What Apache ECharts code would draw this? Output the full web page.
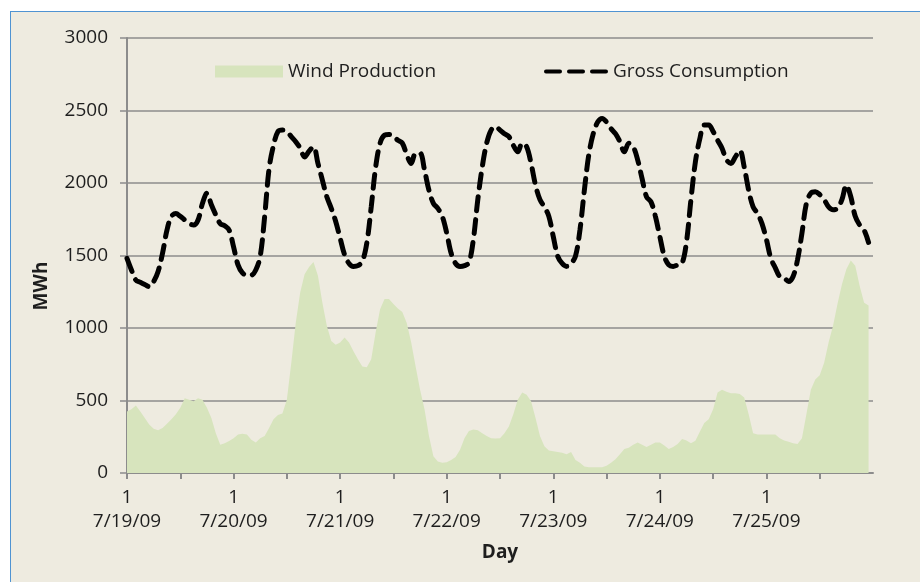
<!DOCTYPE html>
<html>
<head>
<meta charset="utf-8">
<title>Wind Production vs Gross Consumption</title>
<script src="https://cdn.jsdelivr.net/npm/echarts@6/dist/echarts.min.js"></script>
<style>
  html, body { margin: 0; padding: 0; background: #ffffff; overflow: hidden; }
  .frame {
    position: absolute; left: 10px; top: 11px; width: 940px; height: 600px;
    background: #eeebe0; border: 1px solid #4f93d2;
  }
  #chart { position: absolute; left: 0; top: 0; width: 920px; height: 582px; }
</style>
</head>
<body>
<div class="frame"></div>
<div id="chart"></div>
<script>
// hourly values, 7/19/09 00:00 .. 7/25/09 23:00 (one row per day)
const grossConsumption = [
  1480, 1400, 1330, 1315, 1300, 1285, 1320, 1390, 1515, 1675, 1770, 1790, 1770, 1745, 1720, 1710, 1745, 1860, 1930, 1850, 1780, 1720, 1705, 1675,
  1560, 1435, 1380, 1365, 1365, 1400, 1495, 1770, 2100, 2260, 2355, 2365, 2355, 2320, 2285, 2240, 2180, 2220, 2250, 2135, 2020, 1905, 1825, 1735,
  1620, 1505, 1445, 1425, 1430, 1460, 1585, 1835, 2110, 2275, 2330, 2335, 2320, 2295, 2275, 2195, 2135, 2205, 2205, 2090, 1950, 1860, 1825, 1770,
  1655, 1515, 1445, 1425, 1430, 1450, 1610, 1885, 2110, 2275, 2365, 2390, 2365, 2340, 2320, 2260, 2215, 2275, 2250, 2135, 1985, 1885, 1835, 1770,
  1630, 1495, 1445, 1425, 1445, 1495, 1675, 1950, 2195, 2340, 2420, 2445, 2420, 2375, 2340, 2285, 2215, 2275, 2250, 2160, 2030, 1905, 1870, 1770,
  1630, 1495, 1435, 1425, 1435, 1445, 1595, 1885, 2145, 2305, 2400, 2400, 2355, 2295, 2240, 2160, 2135, 2180, 2225, 2110, 1950, 1835, 1790, 1720,
  1610, 1480, 1415, 1355, 1345, 1320, 1355, 1470, 1655, 1860, 1930, 1940, 1920, 1885, 1835, 1815, 1825, 1885, 1985, 1905, 1770, 1710, 1675, 1590
]

const windProduction = [
  425, 440, 465, 425, 380, 335, 305, 295, 310, 340, 370, 405, 450, 515, 505, 495, 515, 505, 450, 380, 275, 195, 205, 220,
  240, 265, 270, 265, 230, 210, 240, 255, 310, 370, 400, 410, 505, 760, 1035, 1245, 1370, 1420, 1455, 1360, 1175, 1015, 910, 885,
  900, 935, 900, 840, 785, 735, 730, 785, 970, 1130, 1200, 1200, 1165, 1135, 1110, 1035, 900, 735, 575, 440, 255, 115, 80, 70,
  75, 90, 110, 160, 240, 290, 300, 295, 275, 255, 240, 238, 240, 275, 320, 405, 505, 555, 540, 495, 380, 255, 185, 155,
  150, 145, 140, 130, 145, 90, 70, 45, 40, 40, 40, 40, 50, 70, 95, 130, 165, 175, 195, 210, 195, 180, 195, 210,
  210, 190, 165, 180, 200, 235, 225, 205, 222, 285, 345, 370, 440, 555, 575, 560, 550, 550, 545, 520, 405, 275, 265, 265,
  265, 265, 265, 240, 225, 215, 205, 200, 240, 405, 575, 645, 675, 760, 900, 1015, 1165, 1300, 1405, 1465, 1430, 1290, 1175, 1155
]

const dayLabels = ['7/19/09', '7/20/09', '7/21/09', '7/22/09', '7/23/09', '7/24/09', '7/25/09']
const yTicks = [0, 500, 1000, 1500, 2000, 2500, 3000]

const WIND_GREEN = '#d7e4bd'
const GRID_GRAY = '#8c8c8c'
const TEXT = '#1e1e1e'
const FONT = '"Open Sans", "DejaVu Sans", sans-serif'

// three rounded dashes for the consumption legend key
const DASH_ICON = 'path://M2,0H16A2,2 0 0 1 16,4H2A2,2 0 0 1 2,0Z' +
  'M25,0H39A2,2 0 0 1 39,4H25A2,2 0 0 1 25,0Z' +
  'M48,0H62A2,2 0 0 1 62,4H48A2,2 0 0 1 48,0Z'

const chart = echarts.init(document.getElementById('chart'))

const toPairs = (arr) => arr.map((v, i) => [i, v])

const option = {
  backgroundColor: 'transparent',
  animation: false,
  textStyle: { fontFamily: FONT, color: TEXT },
  grid: { left: 127, right: 47, top: 38, bottom: 109 },
  legend: [
    {
      data: [{ name: 'Wind Production', icon: 'rect' }],
      left: 210, top: 57,
      itemWidth: 68, itemHeight: 12,
      textStyle: { fontFamily: FONT, fontSize: 19, color: TEXT },
      selectedMode: false
    },
    {
      data: [{ name: 'Gross Consumption', icon: DASH_ICON, itemStyle: { color: '#000000', borderWidth: 0 } }],
      left: 539, top: 57,
      itemWidth: 64, itemHeight: 4.5,
      textStyle: { fontFamily: FONT, fontSize: 19, color: TEXT },
      selectedMode: false
    }
  ],
  xAxis: {
    type: 'value',
    min: 0,
    max: dayLabels.length * 24,
    interval: 12,
    name: 'Day',
    nameLocation: 'middle',
    nameGap: 70,
    nameTextStyle: { fontFamily: FONT, fontSize: 19, fontWeight: 'bold', color: TEXT },
    axisLine: { lineStyle: { color: GRID_GRAY, width: 2 } },
    axisTick: { length: 6, lineStyle: { color: GRID_GRAY, width: 2 } },
    splitLine: { show: false },
    axisLabel: {
      margin: 13,
      fontFamily: FONT,
      fontSize: 19,
      lineHeight: 24,
      color: TEXT,
      showMaxLabel: false,
      formatter: (v) => (v % 24 === 0 && dayLabels[v / 24]) ? '1\n' + dayLabels[v / 24] : ''
    }
  },
  yAxis: {
    type: 'value',
    min: yTicks[0],
    max: yTicks[yTicks.length - 1],
    interval: yTicks[1] - yTicks[0],
    axisLine: { show: true, lineStyle: { color: GRID_GRAY, width: 2 } },
    axisTick: { show: true, length: 7, lineStyle: { color: GRID_GRAY, width: 1.5 } },
    splitLine: { lineStyle: { color: GRID_GRAY, width: 1.5 } },
    axisLabel: { margin: 19, fontFamily: FONT, fontSize: 19, color: TEXT, formatter: (v) => String(v) }
  },
  graphic: [
    {
      type: 'text',
      x: 42, y: 286,
      rotation: Math.PI / 2,
      style: {
        text: 'MWh',
        fontFamily: FONT, fontSize: 19, fontWeight: 'bold',
        fill: TEXT, align: 'center', verticalAlign: 'middle'
      }
    }
  ],
  series: [
    {
      name: 'Wind Production',
      type: 'line',
      data: toPairs(windProduction),
      color: WIND_GREEN,
      showSymbol: false,
      symbol: 'none',
      lineStyle: { width: 0 },
      areaStyle: { color: WIND_GREEN, opacity: 1 },
      z: 1
    },
    {
      name: 'Gross Consumption',
      type: 'line',
      data: toPairs(grossConsumption),
      color: '#000000',
      smooth: 0.35,
      showSymbol: false,
      symbol: 'none',
      lineStyle: { color: '#000000', width: 5, type: [14, 9], cap: 'round' },
      z: 3
    }
  ]
}

chart.setOption(option)
</script>
</body>
</html>
